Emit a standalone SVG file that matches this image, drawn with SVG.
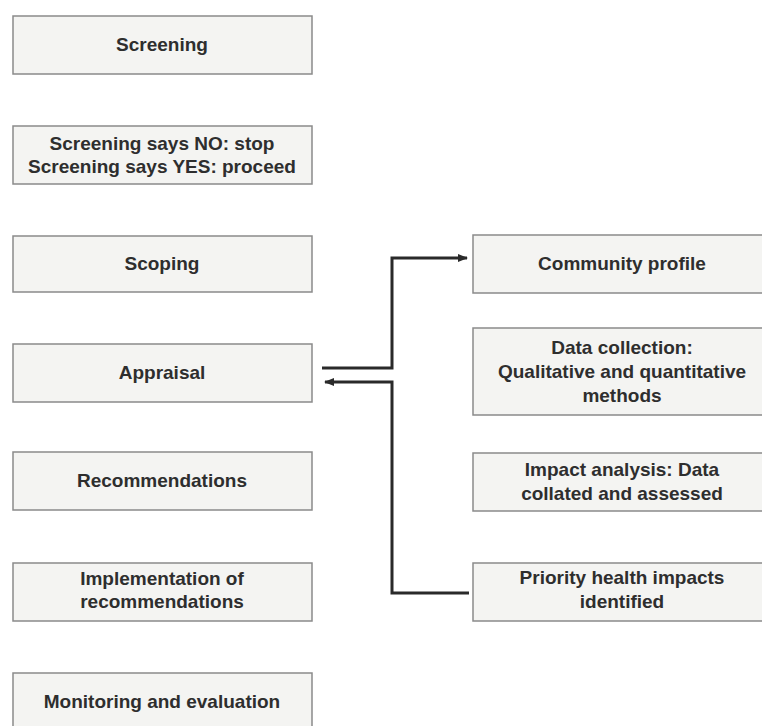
<svg xmlns="http://www.w3.org/2000/svg" width="762" height="726" viewBox="0 0 762 726">
<style>
.box{fill:#f4f4f2;stroke:#8a8a8a;stroke-width:1.5}
.t{font-family:"Liberation Sans",Arial,sans-serif;font-weight:bold;font-size:19px;fill:#2e2e2e;text-anchor:middle}
.c{fill:none;stroke:#2a2a2a;stroke-width:3}
</style>
<defs>
<marker id="ah" markerWidth="10" markerHeight="8" refX="9" refY="4" orient="auto" markerUnits="userSpaceOnUse">
<path d="M0,0 L10,4 L0,8 Z" fill="#2a2a2a"/>
</marker>
</defs>
<rect width="762" height="726" fill="#ffffff"/>
<g id="screening"><rect class="box" x="13" y="16" width="299" height="58"/><text class="t" x="162" y="51">Screening</text></g>
<g id="screening-says"><rect class="box" x="13" y="126" width="299" height="58"/><text class="t" x="162" y="150">Screening says NO: stop</text><text class="t" x="162" y="173">Screening says YES: proceed</text></g>
<g id="scoping"><rect class="box" x="13" y="236" width="299" height="56"/><text class="t" x="162" y="270">Scoping</text></g>
<g id="appraisal"><rect class="box" x="13" y="344" width="299" height="58"/><text class="t" x="162" y="379">Appraisal</text></g>
<g id="recommendations"><rect class="box" x="13" y="452" width="299" height="58"/><text class="t" x="162" y="487">Recommendations</text></g>
<g id="implementation"><rect class="box" x="13" y="563" width="299" height="58"/><text class="t" x="162" y="585">Implementation of</text><text class="t" x="162" y="608">recommendations</text></g>
<g id="monitoring"><rect class="box" x="13" y="673" width="299" height="60"/><text class="t" x="162" y="708">Monitoring and evaluation</text></g>
<g id="community-profile"><rect class="box" x="473" y="235" width="298" height="58"/><text class="t" x="622" y="270">Community profile</text></g>
<g id="data-collection"><rect class="box" x="473" y="328" width="298" height="87"/><text class="t" x="622" y="354">Data collection:</text><text class="t" x="622" y="378">Qualitative and quantitative</text><text class="t" x="622" y="402">methods</text></g>
<g id="impact-analysis"><rect class="box" x="473" y="453" width="298" height="58"/><text class="t" x="622" y="476">Impact analysis: Data</text><text class="t" x="622" y="500">collated and assessed</text></g>
<g id="priority"><rect class="box" x="473" y="563" width="298" height="58"/><text class="t" x="622" y="584">Priority health impacts</text><text class="t" x="622" y="608">identified</text></g>
<g id="connectors">
<path class="c" d="M322,368 H392 V258 H467" marker-end="url(#ah)"/>
<path class="c" d="M469,593 H392 V382 H325" marker-end="url(#ah)"/>
</g>
</svg>
